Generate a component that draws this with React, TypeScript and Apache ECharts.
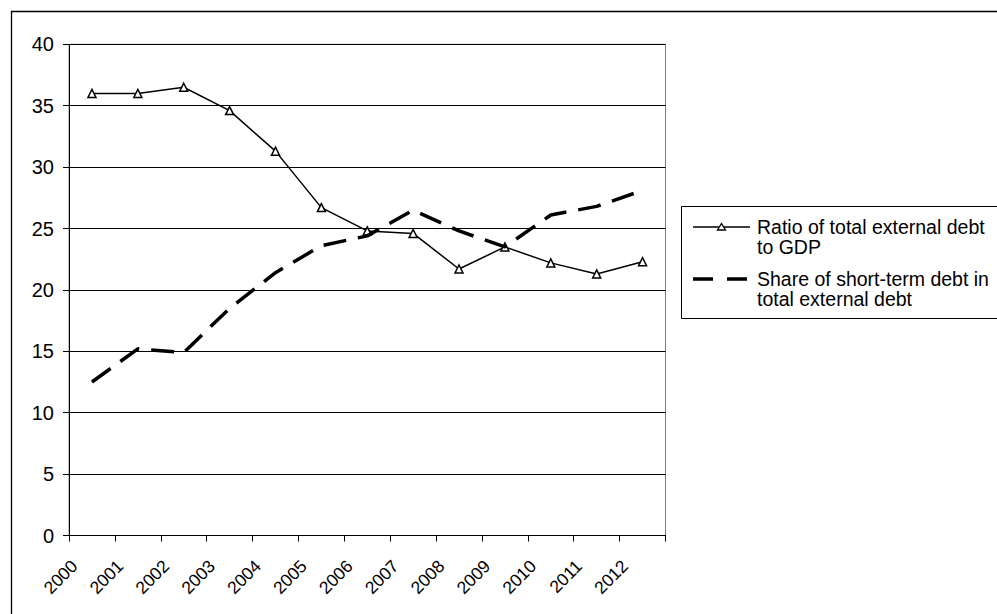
import React, { useEffect, useRef } from "react";
import * as echarts from "echarts";

const years = ["2000", "2001", "2002", "2003", "2004", "2005", "2006", "2007", "2008", "2009", "2010", "2011", "2012"];
const debtToGdp = [36.0, 36.0, 36.5, 34.6, 31.3, 26.7, 24.8, 24.6, 21.7, 23.5, 22.2, 21.3, 22.3];
const shortTermShare = [12.5, 15.2, 14.9, 18.5, 21.4, 23.6, 24.4, 26.5, 24.8, 23.5, 26.1, 26.8, 28.1];
const seriesNames = ["Ratio of total external debt\nto GDP", "Share of short-term debt in\ntotal external debt"];

const FONT = "'Liberation Sans', Arial, sans-serif";

export default function App() {
  const ref = useRef<HTMLDivElement>(null);
  useEffect(() => {
    if (!ref.current) return;
    const chart = echarts.init(ref.current, null, { renderer: "svg" });
    chart.setOption({
      animation: false,
      backgroundColor: "#fff",
      textStyle: { fontFamily: FONT },
      grid: {
        left: 69,
        top: 44.3,
        right: 331.5,
        bottom: 78.5,
        show: true,
        borderColor: "#808080",
        borderWidth: 1,
        backgroundColor: "transparent",
      },
      xAxis: {
        type: "category",
        data: years,
        boundaryGap: true,
        axisLine: { show: true, lineStyle: { color: "#000", width: 1 } },
        axisTick: { show: true, interval: 0, length: 6, lineStyle: { color: "#000" } },
        axisLabel: {
          interval: 0,
          rotate: 45,
          margin: 10,
          padding: [0, 25, 0, 0],
          color: "#000",
          fontSize: 17.5,
          fontFamily: FONT,
        },
        splitLine: { show: false },
      },
      yAxis: {
        type: "value",
        min: 0,
        max: 40,
        interval: 5,
        axisLine: { show: true, lineStyle: { color: "#000", width: 1 } },
        axisTick: { show: true, length: 6, lineStyle: { color: "#000" } },
        axisLabel: { margin: 15, color: "#000", fontSize: 20, fontFamily: FONT },
        splitLine: { show: true, lineStyle: { color: "#000", width: 1 } },
      },
      series: [
        {
          name: seriesNames[0],
          type: "line",
          data: debtToGdp,
          symbol: "triangle",
          symbolSize: 8,
          showSymbol: true,
          lineStyle: { color: "#000", width: 1.5 },
          itemStyle: { color: "#fff", borderColor: "#000", borderWidth: 1.5 },
          z: 2,
        },
        {
          name: seriesNames[1],
          type: "line",
          data: shortTermShare,
          symbol: "none",
          lineStyle: { color: "#000", width: 3.5, type: [23, 12] },
          z: 3,
        },
      ],
      graphic: [
        {
          type: "rect",
          shape: { x: 11.5, y: 11.5, width: 1100, height: 700 },
          style: { fill: "none", stroke: "#000", lineWidth: 1.3 },
          silent: true,
          z: 0,
        },
        {
          type: "group",
          z: 10,
          children: [
            {
              type: "rect",
              shape: { x: 681.5, y: 206.5, width: 400, height: 112 },
              style: { fill: "#fff", stroke: "#000", lineWidth: 1 },
            },
            {
              type: "line",
              shape: { x1: 693, y1: 227, x2: 750, y2: 227 },
              style: { stroke: "#000", lineWidth: 1.5 },
            },
            {
              type: "polygon",
              shape: { points: [[717.5, 230], [721.5, 223.5], [725.5, 230]] },
              style: { fill: "#fff", stroke: "#000", lineWidth: 1.3 },
            },
            {
              type: "text",
              x: 757,
              y: 216.5,
              style: {
                text: seriesNames[0],
                fontSize: 19.5,
                fontFamily: FONT,
                lineHeight: 20,
                fill: "#000",
                verticalAlign: "top",
                align: "left",
              },
            },
            {
              type: "line",
              shape: { x1: 693, y1: 279, x2: 750, y2: 279 },
              style: { stroke: "#000", lineWidth: 3.5, lineDash: [20, 14] },
            },
            {
              type: "text",
              x: 757,
              y: 268.5,
              style: {
                text: seriesNames[1],
                fontSize: 19.5,
                fontFamily: FONT,
                lineHeight: 20,
                fill: "#000",
                verticalAlign: "top",
                align: "left",
              },
            },
          ],
        },
      ],
    });
    return () => chart.dispose();
  }, []);
  return (
    <div
      ref={ref}
      style={{ position: "fixed", left: 0, top: 0, width: 997, height: 614, background: "#fff" }}
    />
  );
}
